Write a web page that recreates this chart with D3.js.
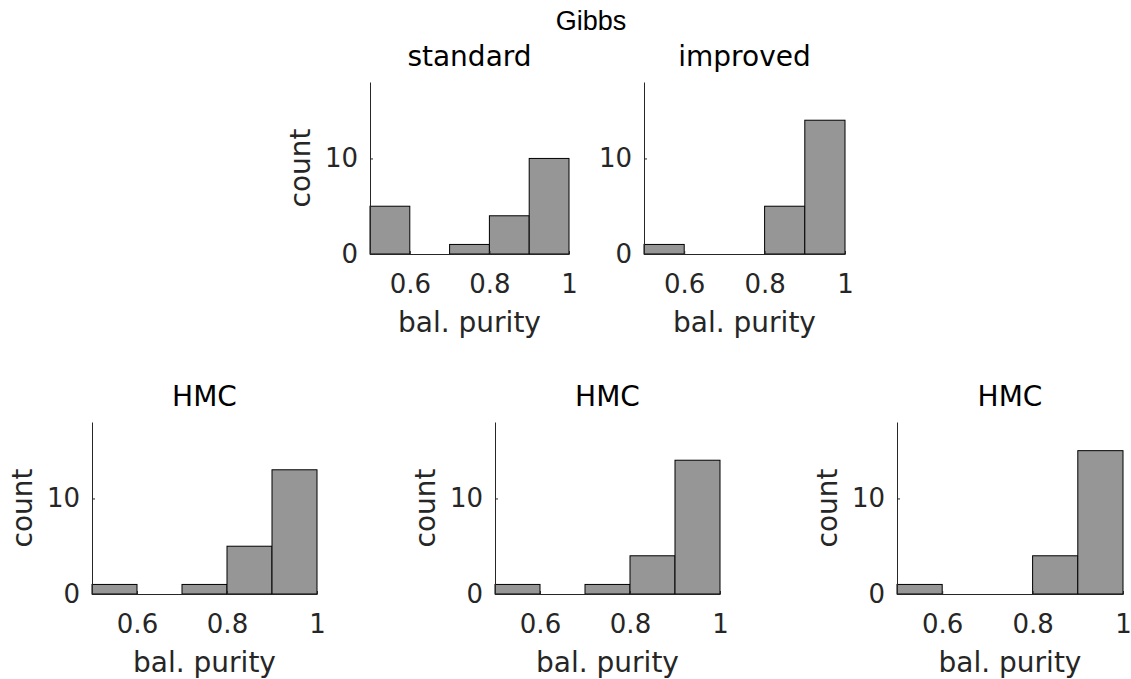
<!DOCTYPE html>
<html>
<head>
<meta charset="utf-8">
<script src="https://cdn.jsdelivr.net/npm/d3@7"></script>
<style>
  body { margin: 0; background: white; }
  text { font-family: "DejaVu Sans", sans-serif; fill: #262626; }
</style>
</head>
<body>
<div id="plot"></div>
<script>
  // histogram data: bin edges and counts per panel
  const binEdges = [0.5, 0.6, 0.7, 0.8, 0.9, 1.0];
  const standardCounts = [5, 0, 1, 4, 10];
  const improvedCounts = [1, 0, 0, 5, 14];
  const hmcCountsA = [1, 0, 1, 5, 13];
  const hmcCountsB = [1, 0, 1, 4, 14];
  const hmcCountsC = [1, 0, 0, 4, 15];
  const xTicks = [0.6, 0.8, 1];
  const yTicks = [0, 10];
  const yMax = 18;

  const w = 1131;
  const h = 679;

  const panels = [
    {title: "standard", counts: standardCounts, x0: 370, x1: 569, top: 82, bottom: 254, ylabel: true},
    {title: "improved", counts: improvedCounts, x0: 644, x1: 845, top: 82, bottom: 254, ylabel: false},
    {title: "HMC", counts: hmcCountsA, x0: 92, x1: 317, top: 422, bottom: 594, ylabel: true},
    {title: "HMC", counts: hmcCountsB, x0: 495, x1: 720, top: 422, bottom: 594, ylabel: true},
    {title: "HMC", counts: hmcCountsC, x0: 897, x1: 1123, top: 422, bottom: 594, ylabel: true}
  ];

  const svg = d3.select("div#plot")
      .append("svg")
      .attr("width", w)
      .attr("height", h);

  svg.append("text")
      .attr("x", 591)
      .attr("y", 30)
      .attr("text-anchor", "middle")
      .style("font-family", "'Liberation Sans', Arial, sans-serif")
      .style("font-size", "27px")
      .style("fill", "#000")
      .text("Gibbs");

  panels.forEach(p => {
    const bins = p.counts.map((c, i) => ({lo: binEdges[i], hi: binEdges[i + 1], c: c}));

    const xScale = d3.scaleLinear()
        .domain([0.5, 1])
        .range([p.x0, p.x1]);

    const yScale = d3.scaleLinear()
        .domain([0, yMax])
        .range([p.bottom, p.top]);

    const g = svg.append("g");

    g.selectAll("rect")
        .data(bins)
        .enter().append("rect")
        .attr("x", d => xScale(d.lo))
        .attr("y", d => yScale(d.c))
        .attr("width", d => xScale(d.hi) - xScale(d.lo))
        .attr("height", d => yScale(0) - yScale(d.c))
        .attr("fill", "#969696")
        .attr("stroke", "#000")
        .attr("stroke-width", 1);

    const xAxis = d3.axisBottom(xScale)
        .tickValues(xTicks)
        .tickFormat(d => d)
        .tickSizeInner(-3)
        .tickSizeOuter(0);

    const yAxis = d3.axisLeft(yScale)
        .tickValues(yTicks)
        .tickSizeInner(-3)
        .tickSizeOuter(0)
        .tickPadding(12);

    const gx = g.append("g")
        .attr("transform", `translate(0, ${p.bottom})`)
        .call(xAxis);

    const gy = g.append("g")
        .attr("transform", `translate(${p.x0}, 0)`)
        .call(yAxis);

    [gx, gy].forEach(a => {
      a.select(".domain").attr("stroke", "#262626");
      a.selectAll(".tick line").attr("stroke", "#262626");
      a.selectAll(".tick text")
          .style("font-family", "'DejaVu Sans', sans-serif")
          .style("font-size", "26px")
          .attr("fill", "#262626");
    });
    gx.selectAll(".tick text").attr("dy", null).attr("y", 39);
    gy.selectAll(".tick text").attr("x", -12);

    g.append("text")
        .attr("x", (p.x0 + p.x1) / 2)
        .attr("y", p.bottom + 78)
        .attr("text-anchor", "middle")
        .style("font-size", "28px")
        .text("bal. purity");

    if (p.ylabel) {
      g.append("text")
          .attr("transform", `translate(${p.x0 - 60}, ${(p.top + p.bottom) / 2}) rotate(-90)`)
          .attr("text-anchor", "middle")
          .style("font-size", "28px")
          .text("count");
    }

    g.append("text")
        .attr("x", (p.x0 + p.x1) / 2)
        .attr("y", p.top - 16)
        .attr("text-anchor", "middle")
        .style("font-size", "28px")
        .style("fill", "#000")
        .text(p.title);
  });
</script>
</body>
</html>
